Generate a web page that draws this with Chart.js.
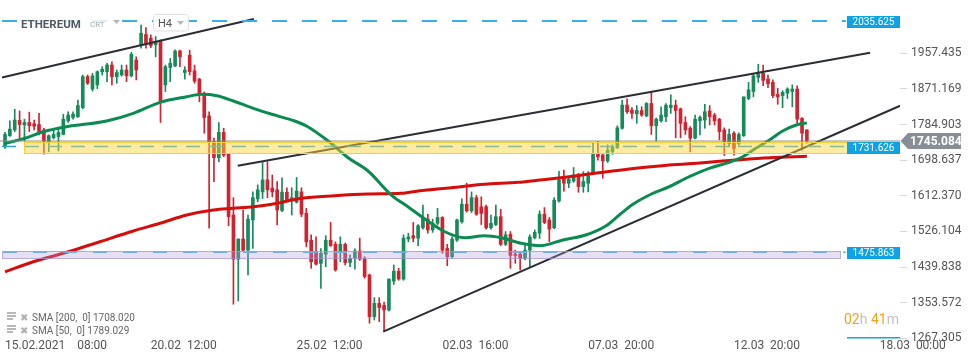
<!DOCTYPE html>
<html><head><meta charset="utf-8">
<script src="https://cdn.jsdelivr.net/npm/chart.js@4.4.1/dist/chart.umd.min.js"></script>
<style>html,body{margin:0;padding:0;background:#fff;overflow:hidden}canvas{display:block}</style>
</head><body>
<canvas id="c" width="970" height="364"></canvas>
<script>
// ---- data (H4 candles, ETHEREUM) ----
const opens = [1731,1758,1772,1795,1784,1790,1787,1785,1772,1744,1753,1756,1761,1794,1802,1804,1826,1901,1871,1881,1913,1913,1929,1901,1905,1917,1903,1941,1976,2003,1994,1978,1986,1881,1923,1927,1963,1911,1953,1915,1895,1857,1806,1744,1705,1766,1713,1566,1459,1508,1481,1554,1605,1622,1651,
1631,1627,1577,1621,1600,1597,1622,1570,1505,1476,1449,1471,1505,1495,1476,1495,1451,1461,1479,1461,1421,1320,1352,1347,1336,1406,1430,1411,1508,1516,1510,1535,1556,1530,1546,1560,1485,1465,1505,1550,1592,1576,1608,1586,1586,1535,1543,1562,1495,1519,1471,1471,1461,1481,1511,1522,
1568,1554,1535,1600,1655,1643,1648,1664,1635,1643,1667,1713,1711,1697,1719,1729,1776,1832,1820,1811,1819,1806,1836,1782,1794,1804,1826,1832,1823,1790,1776,1752,1794,1796,1818,1808,1798,1772,1739,1764,1739,1758,1848,1865,1899,1909,1895,1887,1858,1855,1861,1865,1871,1800,1772];
const highs = [1766,1794,1822,1818,1798,1815,1796,1812,1776,1760,1776,1777,1810,1816,1816,1844,1905,1905,1909,1915,1925,1933,1937,1917,1929,1929,1960,1949,2026,2020,2002,1998,1990,1929,1945,1966,1965,1925,1965,1929,1897,1864,1816,1752,1790,1776,1715,1608,1508,1578,1566,1622,1639,1695,1695,
1663,1647,1656,1632,1632,1657,1632,1582,1518,1513,1485,1516,1548,1501,1513,1498,1469,1484,1510,1465,1423,1366,1366,1355,1411,1445,1437,1518,1522,1548,1543,1590,1568,1556,1582,1562,1495,1513,1556,1605,1643,1622,1614,1610,1590,1566,1590,1580,1526,1526,1481,1476,1497,1518,1530,1576,
1584,1560,1608,1672,1675,1656,1681,1667,1671,1671,1740,1744,1715,1736,1736,1782,1844,1847,1826,1831,1828,1838,1865,1801,1828,1836,1857,1844,1825,1804,1780,1808,1806,1834,1831,1812,1800,1777,1774,1768,1765,1852,1887,1909,1931,1929,1905,1893,1873,1867,1874,1881,1879,1802,1773];
const lows = [1727,1756,1768,1753,1745,1768,1772,1760,1713,1719,1750,1721,1760,1790,1798,1802,1823,1882,1866,1872,1905,1889,1881,1885,1902,1889,1900,1893,1970,1970,1971,1949,1790,1865,1889,1925,1925,1895,1905,1885,1840,1764,1534,1647,1695,1707,1540,1350,1358,1479,1421,1485,1598,1606,1608,
1610,1542,1574,1598,1566,1595,1562,1489,1437,1445,1388,1441,1490,1430,1453,1445,1441,1435,1456,1413,1304,1312,1308,1284,1333,1398,1408,1408,1501,1501,1492,1532,1522,1524,1542,1473,1443,1462,1502,1546,1573,1572,1565,1543,1532,1532,1540,1492,1492,1437,1449,1433,1457,1441,1508,1509,
1545,1501,1533,1597,1624,1632,1645,1621,1621,1622,1664,1699,1655,1693,1713,1727,1774,1812,1800,1788,1805,1804,1761,1745,1791,1792,1812,1753,1753,1761,1719,1750,1760,1776,1784,1784,1748,1710,1731,1711,1735,1756,1845,1852,1887,1879,1874,1850,1834,1826,1848,1828,1788,1723,1740];
const closes = [1761,1774,1796,1785,1790,1782,1781,1768,1745,1758,1761,1766,1798,1808,1810,1831,1901,1885,1903,1913,1919,1929,1901,1911,1917,1903,1955,1917,2006,1979,1976,1986,1842,1925,1933,1963,1949,1917,1913,1890,1857,1802,1744,1705,1766,1711,1562,1459,1508,1481,1556,1608,1627,1651,1627,
1622,1578,1621,1600,1608,1624,1568,1501,1453,1447,1473,1505,1492,1433,1495,1451,1461,1479,1459,1417,1320,1352,1342,1336,1411,1430,1411,1510,1513,1510,1540,1558,1530,1546,1560,1481,1465,1508,1554,1592,1576,1608,1568,1570,1535,1546,1562,1495,1518,1468,1468,1461,1481,1513,1524,1568,
1548,1532,1602,1651,1643,1653,1663,1635,1647,1661,1713,1707,1697,1723,1731,1777,1832,1816,1812,1819,1808,1836,1782,1798,1808,1832,1832,1819,1788,1772,1752,1798,1802,1816,1804,1794,1768,1742,1761,1727,1761,1852,1869,1903,1907,1892,1884,1855,1852,1863,1871,1871,1798,1764,1745.084];

// moving averages, [candle index, value]
const sma50 = [[0,1739.6],[4.1,1751.7],[7.9,1767.7],[12.7,1779.8],[20.9,1793.6],[26.4,1812.2],[31.9,1838.8],[37.4,1852.4],[40.5,1858.2],[43.6,1854.8],[47,1842.0],[51.1,1824.3],[54.9,1809.8],[59.6,1793.6],[62.3,1779.8],[66.5,1745.1],[70.6,1704.7],[74.7,1672.5],[79.5,1614.4],[82.9,1586.1],[86.4,1556.3],[90.5,1525.5],[94.6,1511.0],[98.7,1515.9],[102.1,1511.0],[106.2,1497.5],[110.1,1491.7],[114.8,1505.5],[119.5,1517.6],[123.7,1540.1],[126.4,1566.0],[129.2,1591.9],[132.6,1614.4],[136.7,1634.5],[140.8,1658.7],[144.9,1679.0],[149.0,1693.6],[151.8,1707.1],[154.5,1727.5],[157.3,1747.6],[160.0,1769.3],[162.8,1783.9],[165,1789.0]];
const sma200 = [[0,1428.5],[5.8,1452.9],[12.7,1475.7],[19.5,1501.3],[26.4,1527.3],[31.9,1545.9],[37.4,1566.0],[42.9,1578.1],[47,1582.2],[51.1,1586.1],[54.9,1591.9],[61,1606.4],[67.8,1612.7],[74.7,1616.8],[81.5,1618.5],[85,1624.1],[91.8,1632.1],[98.7,1640.3],[105.6,1645.1],[110.1,1650.7],[116.1,1658.7],[123,1669.4],[129.8,1679.0],[136.7,1687.0],[143.6,1692.6],[150.4,1699.1],[157.3,1704.7],[165,1708.0]];

// trend lines, each [[index, value],[index, value]]
const trendLines = [[[-0.62,1898.9],[51.2,2040.5]], [[47.88,1685.3],[178.0,1958.9]], [[77.84,1283.5],[184.2,1830.6]]];

const levelValues = [2035.625, 1731.626, 1475.863];
const levelEndIndex = 173.0;
const lastPrice = 1745.084;
const zoneLow = [1716.8, 1462.0];
const zoneHigh = [1742.0, 1480.0];
const zoneFrom = [3.9, -0.62];
const zoneTo = [173.25, 171.8];

const xTickPos = [0, 30, 60, 90, 120, 150, 180];
const xTickLabels = ['15.02.2021    08:00', '20.02  12:00', '25.02  12:00', '02.03  16:00', '07.03  20:00', '12.03  20:00', '18.03  00:00'];
const yTickValues = [1267.305, 1353.572, 1439.838, 1526.104, 1612.370, 1698.637, 1784.903, 1871.169, 1957.435];
const smaLegend = ['SMA [200,  0] 1708.020', 'SMA [50,  0] 1789.029'];
const xMin = -1.03, xMax = 184.16, yMin = 1263.4, yMax = 2086.5;

// ---- chart ----
const GREEN = '#178a5b', RED = '#d3222f';
const candleIdx = opens.map((_, i) => i);
const candleColors = candleIdx.map(i => closes[i] >= opens[i] ? GREEN : RED);
const bodyData = candleIdx.map(i => ({x: i, y: [opens[i], closes[i]]}));
const wickData = candleIdx.map(i => ({x: i, y: [lows[i], highs[i]]}));
const lineDs = (pts, extra) => Object.assign({type: 'line', data: pts.map(p => ({x: p[0], y: p[1]})), pointRadius: 0, fill: false, tension: 0}, extra);

const datasets = [
  lineDs([[xMin, lastPrice], [xMax, lastPrice]], {borderColor: '#8d8d8d', borderWidth: 1, order: 0}),
  lineDs([[xMin, levelValues[0]], [levelEndIndex, levelValues[0]]], {borderColor: '#3aaee9', borderWidth: 2, borderDash: [15, 15], borderDashOffset: -2, order: 1}),
  lineDs([[xMin, levelValues[1]], [levelEndIndex, levelValues[1]]], {borderColor: '#2a9fdb', borderWidth: 1.5, borderDash: [14, 9], borderDashOffset: -2, order: 1}),
  lineDs([[xMin, levelValues[2]], [levelEndIndex, levelValues[2]]], {borderColor: '#55b2ea', borderWidth: 1.5, borderDash: [14, 16], borderDashOffset: -3, order: 1}),
  ...trendLines.map(t => lineDs(t, {borderColor: '#2b2e34', borderWidth: 2, order: 2})),
  lineDs(sma50, {borderColor: '#0b8a52', borderWidth: 3, cubicInterpolationMode: 'monotone', order: 3}),
  lineDs(sma200, {borderColor: '#d60d0d', borderWidth: 3, cubicInterpolationMode: 'monotone', order: 4}),
  {type: 'bar', data: bodyData, backgroundColor: candleColors, barThickness: 3, minBarLength: 1, grouped: false, order: 5},
  {type: 'bar', data: wickData, backgroundColor: candleColors, barThickness: 1, grouped: false, order: 6}
];

const overlay = {
  id: 'overlay',
  afterDatasetsDraw(chart) {
    const {ctx, chartArea: ca, scales: {x, y}} = chart;
    ctx.save();
    ctx.beginPath(); ctx.rect(ca.left, ca.top, ca.width, ca.height); ctx.clip();
    const fills = ['rgba(250,214,58,0.48)', 'rgba(178,158,222,0.32)'];
    const strokes = ['#f3d03a', 'rgba(165,145,210,0.75)'];
    for (let k = 0; k < zoneLow.length; k++) {
      const x0 = Math.round(x.getPixelForValue(zoneFrom[k])), x1 = Math.round(x.getPixelForValue(zoneTo[k]));
      const y0 = Math.round(y.getPixelForValue(zoneHigh[k])), y1 = Math.round(y.getPixelForValue(zoneLow[k]));
      ctx.fillStyle = fills[k]; ctx.fillRect(x0, y0, x1 - x0, y1 - y0);
      ctx.strokeStyle = strokes[k]; ctx.lineWidth = 1; ctx.strokeRect(x0 + 0.5, y0 + 0.5, x1 - x0, y1 - y0);
    }
    // level labels
    ctx.font = '10px Roboto'; ctx.textAlign = 'center'; ctx.textBaseline = 'middle';
    const lx0 = Math.round(x.getPixelForValue(levelEndIndex)) + 1;
    levelValues.forEach(v => {
      const py = Math.round(y.getPixelForValue(v)) + 1;
      ctx.fillStyle = '#0fa3e6';
      ctx.fillRect(lx0, py - 6, ca.right - lx0, 12);
      ctx.fillStyle = '#fff';
      ctx.fillText(v.toFixed(3), (lx0 + ca.right) / 2, py + 0.5);
    });
    ctx.restore();
  },
  afterDraw(chart) {
    const {ctx, chartArea: ca, scales: {y}} = chart;
    ctx.save();
    // current price tag
    const py = y.getPixelForValue(lastPrice);
    ctx.fillStyle = '#878e95';
    ctx.beginPath();
    ctx.moveTo(ca.right + 0.5, py); ctx.lineTo(ca.right + 8, py - 8); ctx.lineTo(ca.right + 61, py - 8);
    ctx.lineTo(ca.right + 61, py + 8); ctx.lineTo(ca.right + 8, py + 8); ctx.closePath(); ctx.fill();
    ctx.fillStyle = '#fff'; ctx.font = 'bold 12px Roboto'; ctx.textAlign = 'left'; ctx.textBaseline = 'middle';
    ctx.fillText(lastPrice.toFixed(3), ca.right + 10, py + 0.5);

    // header
    ctx.fillStyle = 'rgba(255,255,255,0.82)';
    ctx.fillRect(17, 12, 105, 20);
    ctx.textBaseline = 'alphabetic';
    ctx.fillStyle = '#4e5964'; ctx.font = 'bold 11.5px Roboto';
    ctx.fillText('ETHEREUM', 21, 27.5);
    ctx.fillStyle = '#a3a9ae'; ctx.font = '8px Roboto';
    ctx.fillText('CRT', 90, 27);
    ctx.fillStyle = '#b3b7bb';
    ctx.beginPath(); ctx.moveTo(113, 20); ctx.lineTo(120, 20); ctx.lineTo(116.5, 24); ctx.closePath(); ctx.fill();
    ctx.fillStyle = 'rgba(255,255,255,0.92)'; ctx.strokeStyle = '#dedede'; ctx.lineWidth = 1;
    ctx.beginPath(); ctx.roundRect(153.5, 14.5, 35, 16.5, 3); ctx.fill(); ctx.stroke();
    ctx.fillStyle = '#555'; ctx.font = '11px Roboto';
    ctx.fillText('H4', 158, 27);
    ctx.fillStyle = '#b3b7bb';
    ctx.beginPath(); ctx.moveTo(177, 21); ctx.lineTo(184, 21); ctx.lineTo(180.5, 25); ctx.closePath(); ctx.fill();

    // SMA legend
    smaLegend.forEach((t, k) => {
      const base = 321 + k * 13;
      ctx.fillStyle = '#b8b8b8';
      ctx.fillRect(7, base - 9, 9, 2); ctx.fillRect(7, base - 6, 9, 2); ctx.fillRect(7, base - 3, 6, 2);
      ctx.font = 'bold 10px "DejaVu Sans"'; ctx.fillStyle = '#b0b0b0';
      ctx.fillText('\u2716', 20, base);
      ctx.font = '10px Roboto'; ctx.fillStyle = '#666';
      ctx.fillText(t, 32, base);
    });

    // countdown
    let cx = 844;
    const parts = [['02', '#f6a11c'], ['h', '#c2c2c2'], [' 41', '#f6a11c'], ['m', '#c2c2c2']];
    ctx.font = '14px Roboto';
    parts.forEach(([s, c]) => { ctx.fillStyle = c; ctx.fillText(s, cx, 324); cx += ctx.measureText(s).width; });
    ctx.fillStyle = '#12a4e8';
    ctx.fillRect(847, 337, ca.right - 847, 1.5);
    ctx.restore();
  }
};

new Chart(document.getElementById('c'), {
  type: 'bar',
  data: {datasets},
  options: {
    responsive: false, animation: false, devicePixelRatio: 1, events: [],
    layout: {padding: 0},
    plugins: {legend: {display: false}, tooltip: {enabled: false}},
    scales: {
      x: {
        type: 'linear', min: xMin, max: xMax, offset: false, bounds: 'data',
        afterBuildTicks: s => { s.ticks = xTickPos.map(v => ({value: v})); },
        afterFit: s => { s.height = 24; s.paddingLeft = 0; },
        grid: {display: true, drawOnChartArea: false, drawTicks: false, offset: false},
        border: {display: false},
        ticks: {autoSkip: false, maxRotation: 0, minRotation: 0, align: 'start', padding: 0, color: '#555',
                font: {family: 'Roboto', size: 12, lineHeight: 1}, callback: (v, i) => xTickLabels[i]}
      },
      y: {
        type: 'linear', position: 'right', min: yMin, max: yMax, bounds: 'data',
        afterBuildTicks: s => { s.ticks = yTickValues.map(v => ({value: v})); },
        afterFit: s => { s.width = 70; s.paddingTop = 0; s.paddingBottom = 0; },
        grid: {drawOnChartArea: false, drawTicks: true, tickLength: 7, color: '#d6d6d6'},
        border: {display: false},
        ticks: {padding: 4, color: '#555', font: {family: 'Roboto', size: 12}, callback: v => v.toFixed(3)}
      }
    }
  },
  plugins: [overlay]
});
</script>
</body></html>
